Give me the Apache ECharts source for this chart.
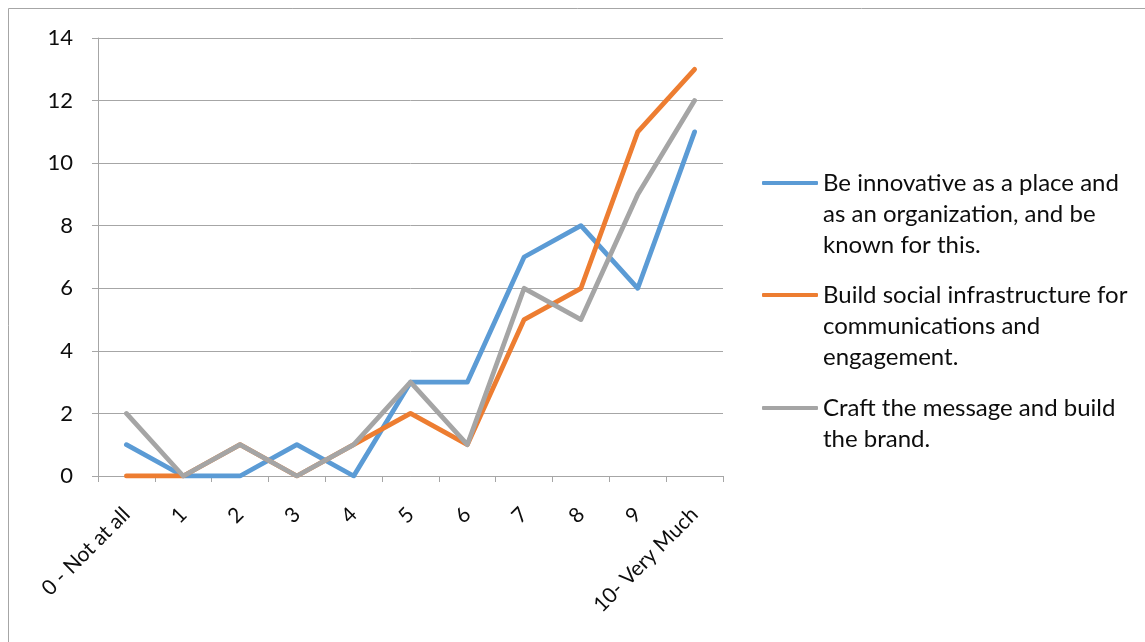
<!DOCTYPE html>
<html>
<head>
<meta charset="utf-8">
<script src="https://cdn.jsdelivr.net/npm/echarts@6/dist/echarts.min.js"></script>
<style>
html,body{margin:0;padding:0;background:#fff;}
#c{width:1145px;height:642px;}
</style>
</head>
<body>
<div id="c"></div>
<script>
const categories = ['0 - Not at all','1','2','3','4','5','6','7','8','9','10- Very Much'];
const seriesNames = [
  'Be innovative as a place and\nas an organization, and be\nknown for this.',
  'Build social infrastructure for\ncommunications and\nengagement.',
  'Craft the message and build\nthe brand.'
];
const innovative = [1,0,0,1,0,3,3,7,8,6,11];
const infrastructure = [0,0,1,0,1,2,1,5,6,11,13];
const brand = [2,0,1,0,1,3,1,6,5,9,12];
const yTicks = [0,2,4,6,8,10,12,14];

const colors = ['#5B9BD5','#ED7D31','#A5A5A5'];
const values = [innovative, infrastructure, brand];
const FONT = 'Lato';
const lineH = 31;
const legendIconY = [183, 295, 408];

const chart = echarts.init(document.getElementById('c'), null, {renderer:'canvas'});

const legends = seriesNames.map((name, i) => {
  const nLines = name.split('\n').length;
  const totalLines = 2 * nLines - 1;
  const boxH = totalLines * lineH;
  return {
    left: 762,
    top: legendIconY[i] - boxH / 2,
    padding: 0,
    itemWidth: 56,
    itemHeight: 4,
    orient: 'vertical',
    data: [{ name: name, icon: 'roundRect' }],
    formatter: n => '\n'.repeat(n.split('\n').length - 1) + n,
    textStyle: {
      fontFamily: FONT, fontSize: 24, color: '#0d0d0d',
      lineHeight: lineH
    },
    selectedMode: false
  };
});

chart.setOption({
  animation: false,
  backgroundColor: '#fff',
  color: colors,
  graphic: [{
    type: 'rect',
    shape: { x: 8.5, y: 8.5, width: 1300, height: 800 },
    style: { fill: 'none', stroke: '#a6a6a6', lineWidth: 1 },
    silent: true, z: -1
  }],
  legend: legends,
  grid: { left: 98, right: 422, top: 38, bottom: 166, containLabel: false },
  xAxis: {
    type: 'category',
    data: categories,
    boundaryGap: true,
    axisLine: { lineStyle: { color: '#a6a6a6', width: 1 } },
    axisTick: { show: true, length: 6, alignWithLabel: false, lineStyle: { color: '#a6a6a6' } },
    axisLabel: {
      interval: 0, rotate: 45, margin: 35,
      fontFamily: FONT, fontSize: 21, color: '#0d0d0d'
    },
    splitLine: { show: false }
  },
  yAxis: {
    type: 'value',
    min: 0, max: 14, interval: 2,
    axisLine: { show: true, lineStyle: { color: '#a6a6a6', width: 1 } },
    axisTick: { show: true, length: 6, lineStyle: { color: '#a6a6a6' } },
    axisLabel: {
      margin: 25, fontFamily: FONT, fontSize: 22, color: '#0d0d0d',
      formatter: v => yTicks.includes(v) ? String(v) : ''
    },
    splitLine: { show: true, lineStyle: { color: '#a6a6a6', width: 1 } }
  },
  series: seriesNames.map((name, i) => ({
    name: name,
    type: 'line',
    data: values[i],
    showSymbol: false,
    symbol: 'none',
    lineStyle: { width: 4.8, color: colors[i], cap: 'round', join: 'round' },
    itemStyle: { color: colors[i] },
    z: 2 + i
  }))
});
</script>
</body>
</html>
